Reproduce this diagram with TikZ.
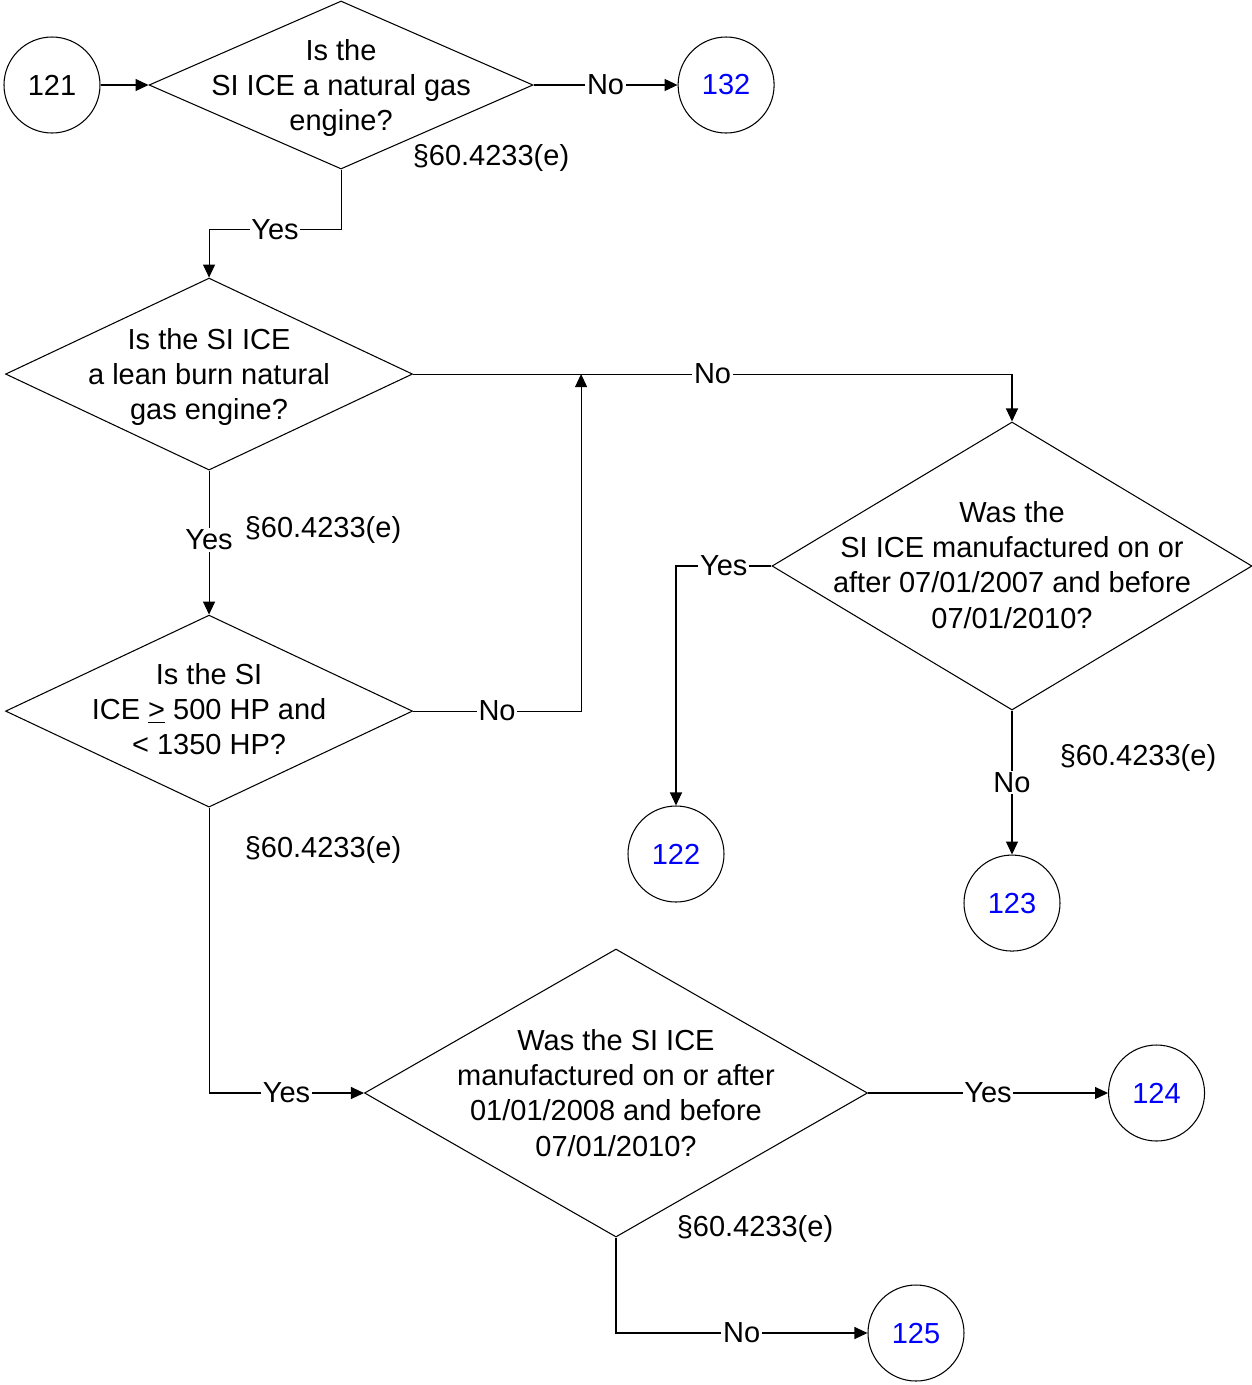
\documentclass[tikz,border=0pt]{standalone}
\usepackage{fontspec}
\setmainfont{Liberation Sans}
\usepackage{xcolor}
\usetikzlibrary{arrows.meta,positioning,shapes.geometric,calc}
\definecolor{refblue}{HTML}{0000FF}

\begin{document}
\begin{tikzpicture}[
  font=\fontsize{16.5}{20}\selectfont,
  line width=0.6pt,
  dia/.style={draw,diamond,inner sep=0pt},
  conn/.style={draw,circle,minimum size=1.92cm,inner sep=0pt},
  offpage/.style={conn,text=refblue},
  qtext/.style={align=center,inner sep=0pt,yshift=-0.06cm},
  lbl/.style={fill=white,inner sep=1pt},
  cite/.style={inner sep=0pt},
  arrow/.style={-{Triangle[length=2.6mm,width=2.4mm]}}
]
\useasboundingbox (0,0) rectangle (25.04,-27.70);

% start and first question
\node[conn] (c121) at (1.04,-1.70) {121};
\node[dia,minimum width=7.68cm,minimum height=3.36cm,right=0.96cm of c121] (d1) {};
\node[qtext] (d1t) at (d1) {Is the\\SI ICE a natural gas\\engine?};
\node[offpage,right=2.88cm of d1] (c132) {132};

% lean burn and size
\node[dia,minimum width=8.14cm,minimum height=3.84cm,below=2.16cm of d1,xshift=-2.64cm] (d2) {};
\node[qtext] (d2t) at (d2) {Is the SI ICE\\a lean burn natural\\gas engine?};
\node[dia,minimum width=8.14cm,minimum height=3.84cm,below=2.88cm of d2] (d3) {};
\node[qtext,yshift=0.10cm] (d3t) at (d3) {Is the SI\\ICE \underline{>} 500 HP and\\< 1350 HP?};
\coordinate[right=3.36cm of d2.east] (merge);

% manufacture dates
\node[dia,minimum width=9.60cm,minimum height=5.76cm] (d4) at (20.24,-11.32) {};
\node[qtext,yshift=0.08cm] (d4t) at (d4) {Was the\\SI ICE manufactured on or\\after 07/01/2007 and before\\07/01/2010?};
\node[offpage] (c122) at (13.52,-17.08) {122};
\node[offpage,below=2.88cm of d4] (c123) {123};

\node[dia,minimum width=10.06cm,minimum height=5.76cm] (d5) at (12.32,-21.86) {};
\node[qtext,yshift=0.06cm] (d5t) at (d5) {Was the SI ICE\\manufactured on or after\\01/01/2008 and before\\07/01/2010?};
\node[offpage,right=4.80cm of d5] (c124) {124};
\node[offpage] (c125) at (18.32,-26.66) {125};

% citations
\node[cite] (r1) at (9.82,-3.16) {§60.4233(e)};
\node[cite] (r2) at (6.46,-10.60) {§60.4233(e)};
\node[cite] (r3) at (6.46,-17.00) {§60.4233(e)};
\node[cite] (r4) at (22.76,-15.16) {§60.4233(e)};
\node[cite] (r5) at (15.10,-24.58) {§60.4233(e)};

% connectors
\draw[arrow] (c121) -- (d1);
\draw[arrow] (d1) -- node[lbl]{No} (c132);
\draw[arrow] (d1.south) -- ++(0,-1.2) -| node[lbl,pos=0.25]{Yes} (d2.north);
\draw[arrow] (d2.east) -| node[lbl,pos=0.25]{No} (d4.north);
\draw[arrow] (d2) -- node[lbl,pos=0.48]{Yes} (d3);
\draw[arrow] (d3.east) -| node[lbl,pos=0.25]{No} (merge);
\draw[arrow] (d3.south) |- node[lbl,pos=0.75]{Yes} (d5.west);
\draw[arrow] (d4.west) -| node[lbl,pos=0.25]{Yes} (c122.north);
\draw[arrow] (d4) -- node[lbl]{No} (c123);
\draw[arrow] (d5) -- node[lbl]{Yes} (c124);
\draw[arrow] (d5.south) |- node[lbl,pos=0.75]{No} (c125.west);
\end{tikzpicture}
\end{document}
